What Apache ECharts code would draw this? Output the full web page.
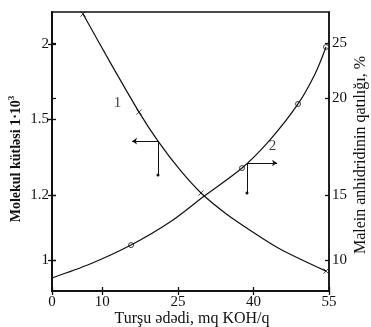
<!DOCTYPE html>
<html><head><meta charset="utf-8">
<script src="https://cdn.jsdelivr.net/npm/echarts@6/dist/echarts.min.js"></script>
<style>html,body{margin:0;padding:0;background:#fff}#c{width:371px;height:327px}</style>
</head><body><div id="c"></div>
<script>
// ---- data ----
const xTicks = [0, 10, 25, 40, 55];
const leftTicks = [1, 1.2, 1.5, 2];          // Molekul kütləsi 1·10³
const rightTicks = [10, 15, 20, 25];         // Malein anhidridinin qatılığı, %
// the original axes are not uniform: fraction of plot height where each tick sits
const leftTickFrac = [0.111, 0.344, 0.616, 0.885];
const rightTickFrac = [0.111, 0.344, 0.692, 0.889];

// curve 1 : molecular mass vs acid number (left axis)
const curve1X = [6.16, 11.52, 17.28, 21.05, 25.42, 29.59, 34.35, 39.32, 45.27, 54.41];
const curve1Y = [2.2, 1.88, 1.547, 1.413, 1.299, 1.208, 1.145, 1.092, 1.034, 0.966];
const curve1MarkX = [6.16, 17.28, 29.59, 54.41];
const curve1MarkY = [2.2, 1.547, 1.208, 0.966];
// curve 2 : maleic anhydride concentration vs acid number (right axis)
const curve2X = [0, 7.55, 15.69, 23.43, 29.98, 37.73, 43.29, 48.85, 52.22, 54.41];
const curve2Y = [8.62, 9.69, 11.15, 12.92, 14.85, 16.39, 17.84, 19.69, 22.18, 24.64];
const curve2MarkX = [15.69, 37.73, 48.85, 54.41];
const curve2MarkY = [11.15, 16.39, 19.69, 24.64];
// axis-indicating arrows (corner on curve, arrow end, dot end)
const arrow1 = {corner: [21.05, 1.413], arrowX: 15.89, dotY: 1.279};
const arrow2 = {corner: [38.72, 16.65], arrowX: 44.68, dotY: 15.1};
const label1 = {x: 13.0, y: 1.61, text: '1'};
const label2 = {x: 43.8, y: 17.5, text: '2'};

// ---- axis scale helpers ----
function toFrac(v, ticks, fracs) {
  let i = 0;
  if (v <= ticks[0]) i = 0;
  else if (v >= ticks[ticks.length - 1]) i = ticks.length - 2;
  else { while (v > ticks[i + 1]) i++; }
  const t = (v - ticks[i]) / (ticks[i + 1] - ticks[i]);
  return fracs[i] + t * (fracs[i + 1] - fracs[i]);
}
const L = v => toFrac(v, leftTicks, leftTickFrac);
const R = v => toFrac(v, rightTicks, rightTickFrac);
function labelFor(v, fracs, ticks) {
  for (let i = 0; i < fracs.length; i++) if (Math.abs(v - fracs[i]) < 1e-6) return String(ticks[i]);
  return '';
}

const serif = 'Liberation Serif';
const ink = '#111';

const baseY = (pos, fracs, ticks, inside, labels) => ({
  type: 'value', position: pos, min: 0, max: 1,
  splitLine: {show: false},
  axisLine: {show: true, lineStyle: {color: ink, width: 1.5}},
  axisTick: {show: true, inside: inside, length: 4, customValues: fracs, lineStyle: {color: ink, width: 1.3}},
  axisLabel: {show: labels, customValues: fracs, margin: 3, fontFamily: serif, fontSize: 15, color: ink,
    formatter: v => labelFor(v, fracs, ticks)}
});
const baseX = (inside, labels) => ({
  type: 'value', position: 'bottom', min: 0, max: 55,
  splitLine: {show: false},
  axisLine: {show: true, onZero: false, lineStyle: {color: ink, width: 1.5}},
  axisTick: {show: true, inside: inside, length: 4, customValues: xTicks, lineStyle: {color: ink, width: 1.3}},
  axisLabel: {show: labels, customValues: xTicks, margin: 4, fontFamily: serif, fontSize: 15, color: ink}
});

const crossSym = 'path://M0,0L10,10M10,0L0,10';
const chart = echarts.init(document.getElementById('c'), null, {renderer: 'canvas'});
chart.setOption({
  animation: false,
  backgroundColor: '#fff',
  grid: {left: 52, right: 42, top: 12, bottom: 36, show: true, borderColor: ink, borderWidth: 1.5, backgroundColor: 'transparent'},
  xAxis: [baseX(false, true), baseX(true, false)],
  yAxis: [
    baseY('left', leftTickFrac, leftTicks, false, true),
    baseY('right', rightTickFrac, rightTicks, false, true),
    baseY('left', leftTickFrac, leftTicks, true, false),
    baseY('right', rightTickFrac, rightTicks, true, false)
  ],
  series: [
    {type: 'line', xAxisIndex: 0, yAxisIndex: 0, smooth: 0.3, showSymbol: false, symbol: 'none',
     lineStyle: {color: ink, width: 1.2}, data: curve1X.map((x, i) => [x, L(curve1Y[i])])},
    {type: 'line', xAxisIndex: 0, yAxisIndex: 1, smooth: 0.3, showSymbol: false, symbol: 'none',
     lineStyle: {color: ink, width: 1.2}, data: curve2X.map((x, i) => [x, R(curve2Y[i])])},
    {type: 'scatter', xAxisIndex: 0, yAxisIndex: 0, symbol: crossSym, symbolSize: 5,
     itemStyle: {color: 'none', borderColor: ink, borderWidth: 1}, data: curve1MarkX.map((x, i) => [x, L(curve1MarkY[i])])},
    {type: 'scatter', xAxisIndex: 0, yAxisIndex: 1, symbol: 'circle', symbolSize: 5,
     itemStyle: {color: '#fff', borderColor: ink, borderWidth: 1}, data: curve2MarkX.map((x, i) => [x, R(curve2MarkY[i])])},
    // arrows
    {type: 'lines', coordinateSystem: 'cartesian2d', xAxisIndex: 0, yAxisIndex: 0, symbol: ['none', 'arrow'], symbolSize: 5,
     lineStyle: {color: ink, width: 1, opacity: 1},
     data: [{coords: [[arrow1.corner[0], L(arrow1.corner[1])], [arrow1.arrowX, L(arrow1.corner[1])]]}]},
    {type: 'lines', coordinateSystem: 'cartesian2d', xAxisIndex: 0, yAxisIndex: 0, symbol: ['none', 'circle'], symbolSize: 3,
     lineStyle: {color: ink, width: 1, opacity: 1},
     data: [{coords: [[arrow1.corner[0], L(arrow1.corner[1])], [arrow1.corner[0], L(arrow1.dotY)]]}]},
    {type: 'lines', coordinateSystem: 'cartesian2d', xAxisIndex: 0, yAxisIndex: 1, symbol: ['none', 'arrow'], symbolSize: 5,
     lineStyle: {color: ink, width: 1, opacity: 1},
     data: [{coords: [[arrow2.corner[0], R(arrow2.corner[1])], [arrow2.arrowX, R(arrow2.corner[1])]]}]},
    {type: 'lines', coordinateSystem: 'cartesian2d', xAxisIndex: 0, yAxisIndex: 1, symbol: ['none', 'circle'], symbolSize: 3,
     lineStyle: {color: ink, width: 1, opacity: 1},
     data: [{coords: [[arrow2.corner[0], R(arrow2.corner[1])], [arrow2.corner[0], R(arrow2.dotY)]]}]},
    // curve labels
    {type: 'scatter', xAxisIndex: 0, yAxisIndex: 0, symbolSize: 0, silent: true,
     label: {show: true, position: 'inside', formatter: label1.text, fontFamily: serif, fontSize: 15, color: ink},
     data: [[label1.x, L(label1.y)]]},
    {type: 'scatter', xAxisIndex: 0, yAxisIndex: 1, symbolSize: 0, silent: true,
     label: {show: true, position: 'inside', formatter: label2.text, fontFamily: serif, fontSize: 15, color: ink},
     data: [[label2.x, R(label2.y)]]}
  ],
  graphic: [
    {type: 'text', x: 192, y: 319, style: {text: 'Turşu ədədi, mq KOH/q', font: '16px "Liberation Serif"', fill: ink, align: 'center', verticalAlign: 'middle'}},
    {type: 'text', x: 16, y: 159, rotation: Math.PI / 2,
     style: {text: '{a|Molekul kütləsi 1·10}{s|3}', fill: ink, align: 'center', verticalAlign: 'middle',
       rich: {a: {font: 'bold 14px "Liberation Serif"', fill: ink}, s: {font: 'bold 9px "Liberation Serif"', fill: ink, verticalAlign: 'top', padding: [0, 0, 8, 0]}}}},
    {type: 'text', x: 361, y: 155, rotation: Math.PI / 2,
     style: {text: 'Malein anhidridinin qatılığı, %', font: '16px "Liberation Serif"', fill: ink, align: 'center', verticalAlign: 'middle'}}
  ]
});
</script></body></html>
